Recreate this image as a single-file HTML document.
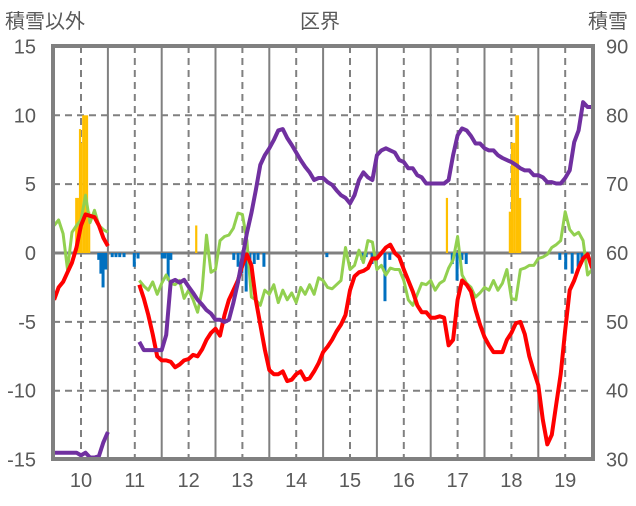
<!DOCTYPE html>
<html><head><meta charset="utf-8">
<style>
html,body{margin:0;padding:0;background:#fff;}
svg text{font-family:"Liberation Sans","Noto Sans CJK JP",sans-serif;fill:#595959;}
</style></head>
<body>
<svg id="chart" width="636" height="501" viewBox="0 0 636 501" xmlns="http://www.w3.org/2000/svg">
<g id="grid"></g>
<g id="bars"></g>
<g id="lines"></g>
<g id="axes"></g>
<text x="5" y="28" font-size="20">積雪以外</text>
<text x="320" y="28" font-size="20" text-anchor="middle">区界</text>
<text x="588" y="28" font-size="20">積雪</text>
</svg>
<script>
const yearTicks=[10,11,12,13,14,15,16,17,18,19];
const leftTicks=[-15,-10,-5,0,5,10,15];
const rightTicks=[30,40,50,60,70,80,90];
const seriesStart=9.5;
const redVals=[-3.4,-2.5,-2.1,-1.4,-0.7,0.4,2.0,2.8,2.7,2.6,2.0,1.1,0.5,null,null,null,null,null,null,
-2.3,-3.3,-4.5,-5.9,-7.5,-7.8,-7.8,-7.9,-8.3,-8.1,-7.8,-7.7,-7.4,-7.5,-7.0,-6.3,-5.8,-5.5,-6.0,-4.5,-3.4,-2.7,-2.0,-0.9,-0.1,-0.9,-3.4,-5.2,-7.0,-8.5,-8.8,-8.8,-8.6,-9.3,-9.2,-8.8,-8.6,-9.2,-9.1,-8.6,-8.0,-7.2,-6.8,-6.3,-5.7,-5.2,-4.5,-2.7,-1.7,-1.4,-1.3,-1.1,-0.4,-0.4,0,0.4,0.6,0,-0.3,-1.2,-2.0,-2.8,-3.8,-4.3,-4.3,-4.7,-4.7,-4.6,-4.7,-6.7,-6.3,-3.4,-2.0,-2.3,-2.8,-4.1,-5.2,-6.1,-6.7,-7.2,-7.2,-7.2,-6.3,-5.8,-5.1,-5.0,-5.9,-7.5,-8.6,-9.6,-12.1,-13.9,-13.2,-11.0,-8.8,-5.6,-2.7,-2.0,-1.1,-0.4,-0.1,-1.1];
const greenVals=[2.0,2.4,1.4,-1.2,1.5,2.0,2.4,4.2,2.2,3.1,2.0,1.7,1.5,null,null,null,null,null,null,
-2.0,-2.4,-2.7,-2.1,-3.0,-2.2,-1.6,-2.2,-2.3,-2.0,-3.3,-2.7,-3.4,-4.3,-2.7,1.3,-1.4,-1.2,0.9,1.2,1.3,1.8,2.9,2.8,0.9,-3.2,-3.4,-3.8,-2.7,-3.0,-2.3,-3.6,-2.7,-3.4,-2.9,-3.6,-2.5,-3.0,-2.3,-3.0,-1.8,-2.0,-2.5,-2.6,-2.3,-2.0,0.4,-1.2,-0.9,0.2,-0.7,0.9,0.8,-1.2,-0.9,-1.6,-1.1,-1.2,-1.2,-2.0,-3.4,-3.8,-3.0,-2.2,-2.3,-2.0,-2.7,-2.2,-2.0,-1.1,-0.5,1.2,-1.6,-2.2,-2.5,-3.2,-2.9,-2.5,-2.7,-2.0,-2.7,-2.2,-1.2,-3.3,-3.4,-1.2,-1.1,-0.9,-0.9,-0.4,-0.3,-0.1,0.4,0.6,0.9,3.0,1.7,1.3,1.5,0.9,-1.6,-1.2];
const purpleVals=[31.0,31.0,31.0,31.0,31.0,31.0,30.6,31.0,30.3,30.3,30.5,32.5,34.0,null,null,null,null,null,null,
47.1,45.9,45.9,45.9,45.9,45.9,48.1,55.8,56.1,55.7,56.1,55.1,54.2,53.2,52.5,51.7,51.2,50.3,50.3,50.0,50.3,52.8,55.7,59.3,62.9,65.8,69.1,72.8,74.2,75.2,76.4,77.8,78.0,76.7,75.7,74.6,73.5,72.5,71.7,70.6,70.9,70.9,70.3,69.9,69.1,68.4,68.0,67.2,68.4,70.6,71.7,71.0,70.6,74.2,74.9,75.2,74.9,74.6,73.5,73.2,72.3,72.3,71.3,71.0,70.1,70.1,70.1,70.1,70.1,70.6,74.2,77.1,78.1,77.8,77.0,75.9,75.9,75.2,74.9,74.9,74.2,73.8,73.5,73.2,72.8,72.3,72.0,72.0,71.3,71.3,71.0,70.3,70.3,70.1,70.1,70.9,72.0,76.1,77.8,81.9,81.2,81.2];
const orangeT=[9.91,9.94,9.98,10.0,10.04,10.07,10.11,10.15,12.14,16.80,17.97,18.01,18.05,18.09,18.12,18.16];
const orangeV=[4,4,9,8,10,10,10,3,2,4,3,8,8,10,10,4];
const blueT=[10.33,10.37,10.41,10.46,10.58,10.65,10.72,10.80,10.99,11.06,11.51,11.56,11.62,11.67,12.84,12.92,12.99,13.07,13.14,13.22,13.29,13.40,14.57,15.22,15.30,15.41,15.65,15.74,16.90,16.99,17.08,17.16,18.90,19.01,19.13,19.24,19.31];
const blueV=[-0.5,-1.5,-2.5,-1.2,-0.3,-0.3,-0.3,-0.3,-1.0,-0.4,-0.4,-0.4,-2.0,-0.5,-0.5,-1.0,-1.5,-2.8,-1.0,-0.8,-0.5,-1.0,-0.3,-0.5,-0.3,-0.8,-3.5,-0.5,-0.8,-2.0,-0.5,-0.8,-0.5,-1.2,-1.5,-1.0,-0.5];

const NS='http://www.w3.org/2000/svg';
const L=53,R=593,T=46,B=459;
const xS=t=>81+(t-10)*53.8;
const yL=v=>253-v*13.77;
const yR=v=>yL((v-60)/2);
function mk(tag,attrs,parent){const e=document.createElementNS(NS,tag);for(const k in attrs)e.setAttribute(k,attrs[k]);parent.appendChild(e);return e;}
const grid=document.getElementById('grid'),bars=document.getElementById('bars'),lines=document.getElementById('lines'),axes=document.getElementById('axes');
// vertical grid
yearTicks.forEach(y=>{
  const d=mk('line',{x1:xS(y),x2:xS(y),y1:T,y2:B,stroke:'#808080','stroke-width':2,'stroke-dasharray':'7,5'},grid);
  
  
  const sx=xS(y+0.5);
  if(sx<R-2){const s=mk('line',{x1:sx,x2:sx,y1:T,y2:B,stroke:'#808080','stroke-width':2},grid);
  
  }
  const tx=mk('text',{x:xS(y),y:487,'font-size':20,'text-anchor':'middle'},axes);tx.textContent=y;
  
  
});
leftTicks.forEach(v=>{
  if(v!==15&&v!==-15&&v!==0){const g=mk('line',{x1:L,x2:R,y1:yL(v),y2:yL(v),stroke:'#808080','stroke-width':2,'stroke-dasharray':'7,5'},grid);
  
  }
  const tx=mk('text',{x:36,y:yL(v)+7,'font-size':20,'text-anchor':'end'},axes);tx.textContent=v;
  
  
});
rightTicks.forEach(v=>{
  const tx=mk('text',{x:606,y:yR(v)+7,'font-size':20},axes);tx.textContent=v;
  
  
});
// bars
orangeT.forEach((t,i)=>{const y=yL(orangeV[i]);const b=mk('rect',{x:xS(t)-1,y:y,width:2.2,height:yL(0)-y,fill:'#FFC000'},bars);
  
  });
blueT.forEach((t,i)=>{const b=mk('rect',{x:xS(t)-1.5,y:yL(0),width:3,height:yL(blueV[i])-yL(0),fill:'#0070C0'},bars);
  
  });
// zero line
const z=mk('line',{x1:L,x2:R,y1:yL(0),y2:yL(0),stroke:'#808080','stroke-width':3},grid);


function path(vals,ys){let d='',pen=false;vals.forEach((v,i)=>{if(v===null){pen=false;return;}const x=xS(seriesStart+i/12),y=ys(v);d+=(pen?'L':'M')+x.toFixed(1)+','+y.toFixed(1);pen=true;});return d;}
const g=mk('path',{d:path(greenVals,yL),fill:'none',stroke:'#92D050','stroke-width':3,'stroke-linejoin':'round'},lines);


const r=mk('path',{d:path(redVals,yL),fill:'none',stroke:'#FF0000','stroke-width':4,'stroke-linejoin':'round'},lines);


const p=mk('path',{d:path(purpleVals,yR),fill:'none',stroke:'#7030A0','stroke-width':4,'stroke-linejoin':'round'},lines);


const f=mk('rect',{x:L,y:T,width:R-L,height:B-T,fill:'none',stroke:'#808080','stroke-width':4},axes);


</script>
</body></html>
